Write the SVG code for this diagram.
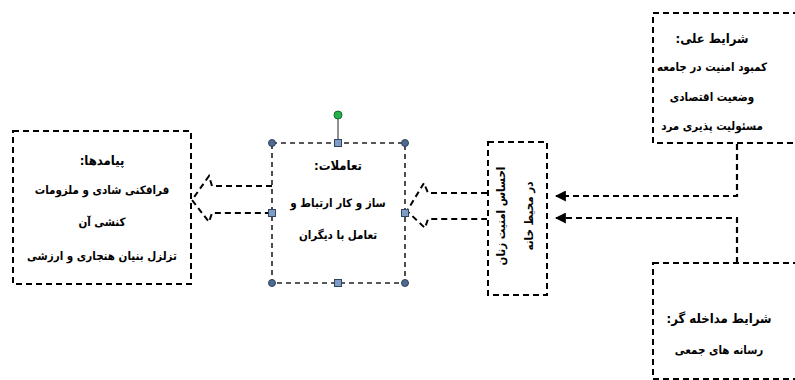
<svg xmlns="http://www.w3.org/2000/svg" width="795" height="380" viewBox="0 0 795 380">
<defs>
<style>
.box{fill:#fff;stroke:#000;stroke-width:2;stroke-dasharray:6 4}
.sel{fill:none;stroke:#222;stroke-width:1.6;stroke-dasharray:5 4}
.line{fill:none;stroke:#000;stroke-width:2.2;stroke-dasharray:6 4}
.barrow{fill:none;stroke:#000;stroke-width:2;stroke-dasharray:6 4}
.t{font-family:"DejaVu Sans Condensed","DejaVu Sans",sans-serif;font-stretch:condensed;font-size:11.5px;font-weight:bold;fill:#000;text-anchor:middle;direction:rtl}
.h{font-size:13px}
.hc{fill:#4e6a8e;stroke:#2e4460;stroke-width:1}
.hs{fill:#7f9cc6;stroke:#2e4460;stroke-width:1}
</style>
<marker id="ah" viewBox="0 0 10 10" refX="9" refY="5" markerWidth="5" markerHeight="5" orient="auto">
<path d="M0,0 L10,5 L0,10 z" fill="#000"/>
</marker>
</defs>

<g id="connectors">
<polyline class="line" points="737,144 737,196 556,196" marker-end="url(#ah)"/>
<polyline class="line" points="737,263 737,218 556,218" marker-end="url(#ah)"/>
<path class="barrow" d="M487,193 L428,193 L424,183 L407,211 L425,228 L428,219 L487,219"/>
<path class="barrow" d="M272,186 L212,186 L209,176 L192,200 L209,222 L212,213 L272,213"/>
</g>

<g id="node-outcomes">
<rect class="box" x="13" y="131" width="178" height="153"/>
<text class="t h" x="102" y="165">پیامدها:</text>
<text class="t" x="102" y="194">فرافکنی شادی و ملزومات</text>
<text class="t" x="102" y="226">کنشی آن</text>
<text class="t" x="102" y="260">تزلزل بنیان هنجاری و ارزشی</text>
</g>

<g id="node-interactions">
<rect class="sel" x="272" y="143" width="133" height="140"/>
<line x1="338" y1="116" x2="338" y2="143" stroke="#222" stroke-width="1"/>
<circle cx="338" cy="115" r="4" fill="#22b14c" stroke="#1a6b2e" stroke-width="1"/>
<circle class="hc" cx="272" cy="143" r="3.5"/>
<circle class="hc" cx="405" cy="143" r="3.5"/>
<circle class="hc" cx="272" cy="283" r="3.5"/>
<circle class="hc" cx="405" cy="283" r="3.5"/>
<rect class="hs" x="334.5" y="139.5" width="7" height="7"/>
<rect class="hs" x="334.5" y="279.5" width="7" height="7"/>
<rect class="hs" x="268.5" y="209.5" width="7" height="7"/>
<rect class="hs" x="401.5" y="209.5" width="7" height="7"/>
<text class="t h" x="338" y="170">تعاملات:</text>
<text class="t" x="338" y="207">ساز و کار ارتباط و</text>
<text class="t" x="338" y="239">تعامل با دیگران</text>
</g>

<g id="node-security">
<rect class="box" x="488" y="142" width="59" height="153"/>
<text class="t" transform="translate(505,216) rotate(-90)">احساس امنیت زنان</text>
<text class="t" transform="translate(533,216) rotate(-90)">در محیط خانه</text>
</g>

<g id="node-causal">
<rect class="box" x="653" y="13" width="160" height="130"/>
<text class="t h" x="712" y="43">شرایط علی:</text>
<text class="t" x="712" y="71">کمبود امنیت در جامعه</text>
<text class="t" x="712" y="101">وضعیت اقتصادی</text>
<text class="t" x="712" y="130">مسئولیت پذیری مرد</text>
</g>

<g id="node-intervening">
<rect class="box" x="653" y="263" width="160" height="116"/>
<text class="t h" x="719" y="323">شرایط مداخله گر:</text>
<text class="t" x="719" y="354">رسانه های جمعی</text>
</g>
</svg>
